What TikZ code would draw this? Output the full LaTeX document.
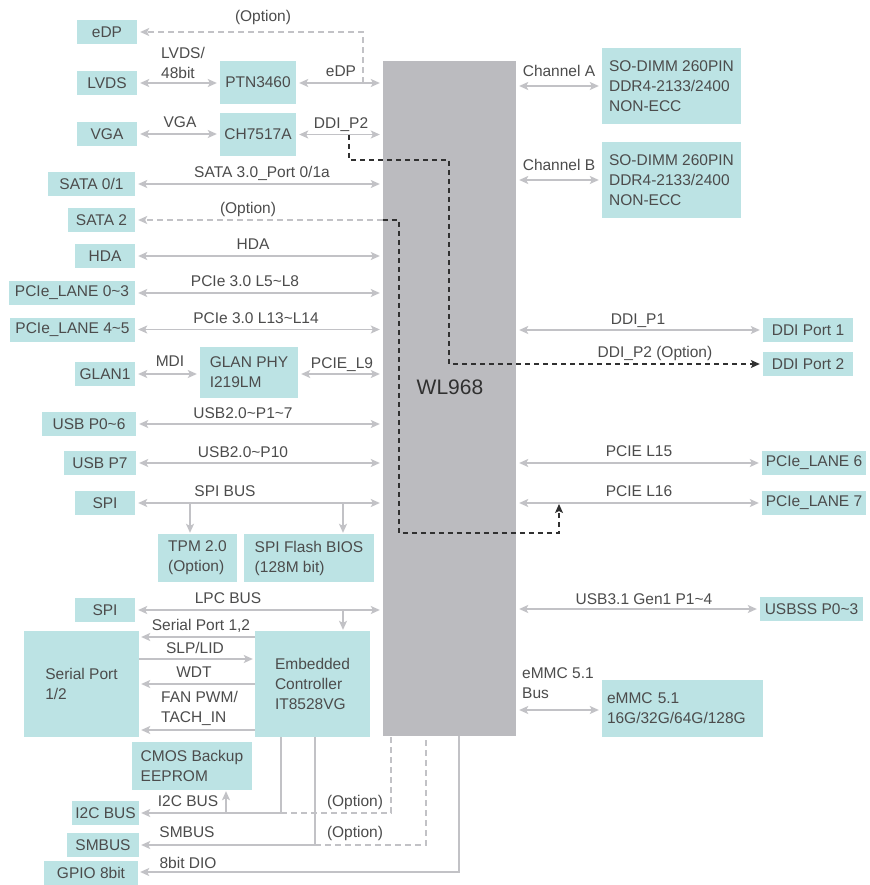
\documentclass[tikz,border=0pt]{standalone}
\usepackage{fontspec}
\setmainfont{Liberation Sans}
\usetikzlibrary{arrows.meta}
\definecolor{boxc}{HTML}{BCE3E4}
\definecolor{chipc}{HTML}{BBBBBF}
\definecolor{lnc}{HTML}{C2C2C6}
\definecolor{txc}{HTML}{4C4C4C}
\definecolor{dkc}{HTML}{303030}
\newcommand{\lbfont}{\fontsize{15.5}{20}\selectfont}
\newcommand{\tld}{\textasciitilde}
\tikzset{
  bx/.style={fill=boxc, text=txc, inner sep=0pt, font=\lbfont},
  bxl/.style={bx, align=left},
  bxw/.style={bx, align=left, inner xsep=#1},
  lb/.style={text=txc, inner sep=0pt, font=\lbfont, anchor=base},
  lbl/.style={text=txc, inner sep=0pt, font=\lbfont, anchor=north west, align=left},
  ln/.style={draw=lnc, line width=1.3pt},
  ar/.style={ln, <->, shorten <=3pt, shorten >=3pt},
  gd/.style={ln, dash pattern=on 6pt off 4pt},
  bd/.style={draw=dkc, line width=1.2pt, dash pattern=on 5pt off 4pt},
}
\begin{document}
\begin{tikzpicture}[x=1pt,y=-1pt,>={Stealth[length=9pt,width=8pt,inset=2pt]}]
\fill[white] (0,0) rectangle (869,885);
\useasboundingbox (0,0) rectangle (869,885);

% main chip
\node[fill=chipc, minimum width=133pt, minimum height=675pt, inner sep=0pt] (wl) at (449.5,398.5) {};

% left boxes
\node[bx, minimum width=60pt, minimum height=24pt] (edp) at (107,32) {eDP};
\node[bx, minimum width=60pt, minimum height=24pt] (lvds) at (107,83) {LVDS};
\node[bx, minimum width=76pt, minimum height=43pt] (ptn) at (258,82.5) {PTN3460};
\node[bx, minimum width=60pt, minimum height=24pt] (vga) at (107,134) {VGA};
\node[bx, minimum width=76pt, minimum height=43pt] (ch) at (258,134.5) {CH7517A};
\node[bx, minimum width=87pt, minimum height=24pt] (sata01) at (91.5,184) {SATA 0/1};
\node[bx, minimum width=67pt, minimum height=24pt] (sata2) at (101.5,220) {SATA 2};
\node[bx, minimum width=60pt, minimum height=24pt] (hda) at (105,256) {HDA};
\node[bx, minimum width=126pt, minimum height=24pt] (pcie03) at (72,293) {PCIe\_LANE 0\tld3};
\node[bx, minimum width=125pt, minimum height=24pt] (pcie45) at (72.5,329.5) {PCIe\_LANE 4\tld5};
\node[bx, minimum width=60pt, minimum height=24pt] (glan1) at (105,374) {GLAN1};
\node[bxl, minimum width=98pt, minimum height=51pt] (phy) at (249,372.5) {GLAN PHY\\I219LM};
\node[bx, minimum width=94pt, minimum height=24pt] (usb06) at (89,424) {USB P0\tld6};
\node[bx, minimum width=72pt, minimum height=24pt] (usbp7) at (100,463) {USB P7};
\node[bx, minimum width=60pt, minimum height=24pt] (spi1) at (105,503) {SPI};
\node[bxl, minimum width=79pt, minimum height=48pt] (tpm) at (197.5,558) {TPM 2.0\\(Option)};
\node[bxl, minimum width=130pt, minimum height=48pt] (flash) at (309,558) {SPI Flash BIOS\\(128M bit)};
\node[bx, minimum width=60pt, minimum height=24pt] (spi2) at (105,610) {SPI};
\node[bxl, minimum width=115pt, minimum height=106pt] (serial) at (81.5,684) {Serial Port\\1/2};
\node[bxl, minimum width=115pt, minimum height=106pt] (ec) at (312.5,684) {Embedded\\Controller\\IT8528VG};
\node[bxl, minimum width=120pt, minimum height=48pt] (cmos) at (192,766) {CMOS Backup\\EEPROM};
\node[bx, minimum width=67pt, minimum height=24pt] (i2c) at (105.5,813) {I2C BUS};
\node[bx, minimum width=72pt, minimum height=24pt] (smbus) at (103,845) {SMBUS};
\node[bx, minimum width=94pt, minimum height=24pt] (gpio) at (91,873) {GPIO 8bit};

% right boxes
\node[bxl, minimum width=139pt, minimum height=76pt] (dimma) at (671.5,86) {SO-DIMM 260PIN\\DDR4-2133/2400\\NON-ECC};
\node[bxl, minimum width=139pt, minimum height=76pt] (dimmb) at (671.5,180) {SO-DIMM 260PIN\\DDR4-2133/2400\\NON-ECC};
\node[bx, minimum width=90pt, minimum height=24pt] (ddi1) at (808,330) {DDI Port 1};
\node[bx, minimum width=90pt, minimum height=24pt] (ddi2) at (808,364) {DDI Port 2};
\node[bx, minimum width=104pt, minimum height=24pt] (pl6) at (814,463) {PCIe\_LANE 6};
\node[bx, minimum width=104pt, minimum height=24pt] (pl7) at (814,503) {PCIe\_LANE 7};
\node[bx, minimum width=103pt, minimum height=24pt] (usbss) at (811.5,609) {USBSS P0\tld3};
\node[bxw=5pt, text width=151pt, minimum height=57pt] (emmc) at (682.5,708.5) {eMMC 5.1\\16G/32G/64G/128G};

% coordinates
\coordinate (e1) at (363,83);
\coordinate (e2) at (363,32);
\coordinate (d1) at (349,135);
\coordinate (d2) at (349,160);
\coordinate (d3) at (449,160);
\coordinate (s1) at (399,220);
\coordinate (s2) at (399,533);
\coordinate (s3) at (559,533);
\coordinate (s4) at (559,504);
\coordinate (t1) at (190,503);
\coordinate (f1) at (343,503);
\coordinate (l1) at (343,610);
\coordinate (ySP) at (0,637);
\coordinate (ySL) at (0,659);
\coordinate (yWD) at (0,684);
\coordinate (yFN) at (0,730);
\coordinate (iA) at (281,813);
\coordinate (iB) at (391,813);
\coordinate (cA) at (226,813);
\coordinate (sA) at (315,845);
\coordinate (sB) at (426,845);
\coordinate (gA) at (459,872);
\coordinate (yEM) at (0,710);

% left connectors
\draw[gd,->] (e1) -- (e2) -- ([xshift=3pt]edp.east);
\draw[ar] (lvds.east) -- (lvds.east -| ptn.west);
\draw[ar] (ptn.east |- e1) -- (e1 -| wl.west);
\draw[ar] (vga.east) -- (vga.east -| ch.west);
\draw[ar] (ch.east) -- (ch.east -| wl.west);
\draw[ar] (sata01.east) -- (sata01.east -| wl.west);
\draw[gd,->] (sata2.east -| wl.west) -- ([xshift=3pt]sata2.east);
\draw[ar] (hda.east) -- (hda.east -| wl.west);
\draw[ar] (pcie03.east) -- (pcie03.east -| wl.west);
\draw[ar] (pcie45.east) -- (pcie45.east -| wl.west);
\draw[ar] (glan1.east) -- (glan1.east -| phy.west);
\draw[ar] (phy.east |- glan1.east) -- (glan1.east -| wl.west);
\draw[ar] (usb06.east) -- (usb06.east -| wl.west);
\draw[ar] (usbp7.east) -- (usbp7.east -| wl.west);
\draw[ar] (spi1.east) -- (spi1.east -| wl.west);
\draw[ln,->,shorten >=1pt] (t1) -- (t1 |- tpm.north);
\draw[ln,->,shorten >=1pt] (f1) -- (f1 |- flash.north);
\draw[ar] (spi2.east) -- (spi2.east -| wl.west);
\draw[ln,->,shorten >=1pt] (l1) -- (l1 |- ec.north);
\draw[ln,->,shorten >=2pt] (ec.west |- ySP) -- (serial.east |- ySP);
\draw[ln,->,shorten >=2pt] (serial.east |- ySL) -- (ec.west |- ySL);
\draw[ln,->,shorten >=2pt] (ec.west |- yWD) -- (serial.east |- yWD);
\draw[ln,->,shorten >=2pt] (ec.west |- yFN) -- (serial.east |- yFN);
\draw[ln,->,shorten >=2pt] (iA |- ec.south) -- (iA) -- (i2c.east |- iA);
\draw[ln,->,shorten >=1pt] (cA) -- (cA |- cmos.south);
\draw[gd] (iA) -- (iB) -- (iB |- wl.south);
\draw[ln,->,shorten >=2pt] (sA |- ec.south) -- (sA) -- (smbus.east |- sA);
\draw[gd] (sA) -- (sB) -- (sB |- wl.south);
\draw[ln,->,shorten >=2pt] (gA |- wl.south) -- (gA) -- (gpio.east |- gA);

% right connectors
\draw[ar] (wl.east |- dimma.west) -- (dimma.west);
\draw[ar] (wl.east |- dimmb.west) -- (dimmb.west);
\draw[ar] (wl.east |- ddi1.west) -- (ddi1.west);
\draw[ar] (wl.east |- pl6.west) -- (pl6.west);
\draw[ar] (wl.east |- pl7.west) -- (pl7.west);
\draw[ar] (wl.east |- usbss.west) -- (usbss.west);
\draw[ar] (wl.east |- yEM) -- (emmc.west |- yEM);

% black dashed option routes
\draw[bd,->,shorten >=3pt] (d1) -- (d2) -- (d3) -- (d3 |- ddi2.west) -- (ddi2.west);
\draw[bd,->] (sata2.east -| wl.west) -- (s1) -- (s2) -- (s3) -- (s4);

% labels
\node[lb] (lopt1) at (263,22) {(Option)};
\node[lbl] (llvds) at (161,47.5) {LVDS/\\48bit};
\node[lb] (ledp) at (341,76.5) {eDP};
\node[lb] (lvga) at (180,127.5) {VGA};
\node[lb] (lddip2) at (341,128.5) {DDI\_P2};
\node[lb] (lsata) at (262,177.5) {SATA 3.0\_Port 0/1a};
\node[lb] (lopt2) at (248,213.5) {(Option)};
\node[lb] (lhda) at (253,249.5) {HDA};
\node[lb] (lp1) at (245,286.5) {PCIe 3.0 L5\tld L8};
\node[lb] (lp2) at (256,323.5) {PCIe 3.0 L13\tld L14};
\node[lb] (lmdi) at (170,366.5) {MDI};
\node[lb] (ll9) at (342,368.5) {PCIE\_L9};
\node[lb] (lu1) at (243,418.5) {USB2.0\tld P1\tld7};
\node[lb] (lu2) at (243,457.5) {USB2.0\tld P10};
\node[lb] (lspi) at (225,496.5) {SPI BUS};
\node[lb] (llpc) at (228,603.5) {LPC BUS};
\node[lb] (lsp) at (201,630.5) {Serial Port 1,2};
\node[lb] (lslp) at (195,653.5) {SLP/LID};
\node[lb] (lwdt) at (194,677.5) {WDT};
\node[lbl] (lfan) at (161,691.5) {FAN PWM/\\TACH\_IN};
\node[lb] (li2c) at (188,806.5) {I2C BUS};
\node[lb] (lopt3) at (355,806.5) {(Option)};
\node[lb] (lsmb) at (187,837.5) {SMBUS};
\node[lb] (lopt4) at (355,837.5) {(Option)};
\node[lb] (ldio) at (188,868.5) {8bit DIO};
\node[lb] (lcha) at (559,76.5) {Channel A};
\node[lb] (lchb) at (559,170.5) {Channel B};
\node[lb] (lddi1) at (638,324.5) {DDI\_P1};
\node[lb] (lddi2) at (655,357.5) {DDI\_P2 (Option)};
\node[text=dkc, inner sep=0pt, anchor=base, font=\fontsize{21}{24}\selectfont] (lwl) at (450,394.5) {WL968};
\node[lb] (l15) at (639,456.5) {PCIE L15};
\node[lb] (l16) at (639,496.5) {PCIE L16};
\node[lb] (lusb3) at (644,604.5) {USB3.1 Gen1 P1\tld4};
\node[lbl] (lemb) at (522,667.5) {eMMC 5.1\\Bus};
\end{tikzpicture}
\end{document}
